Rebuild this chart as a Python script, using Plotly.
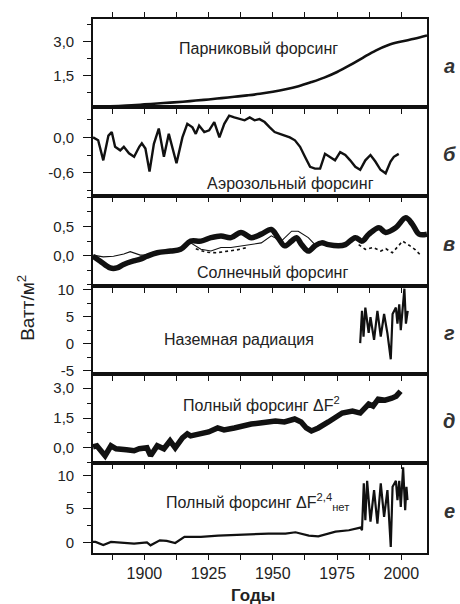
import numpy as np
import plotly.graph_objects as go
from plotly.subplots import make_subplots

# ---------------- data ----------------
ghg_years = [1880, 1885, 1890, 1895, 1900, 1905, 1910, 1915, 1920, 1925, 1930, 1935, 1940,
             1945, 1950, 1955, 1960, 1965, 1970, 1975, 1980, 1985, 1990, 1995, 2000, 2005, 2010]
ghg_vals = [0.10, 0.12, 0.14, 0.17, 0.21, 0.25, 0.29, 0.33, 0.38, 0.43, 0.49, 0.55, 0.61,
            0.68, 0.77, 0.88, 1.02, 1.20, 1.40, 1.65, 1.95, 2.28, 2.60, 2.85, 3.00, 3.12, 3.27]

aer_years = [1880, 1882, 1884, 1886, 1887.3, 1888.6, 1890.6, 1892, 1894, 1896, 1898, 1899,
             1900.4, 1902, 1903.7, 1905.6, 1907.6, 1909.5, 1912.5, 1914.8, 1916.7, 1918.7,
             1920, 1921.3, 1923.3, 1925.2, 1927.2, 1929.2, 1931.1, 1933, 1935, 1937, 1939,
             1941, 1942.9, 1944.8, 1946.8, 1948.8, 1950.7, 1952.7, 1954.6, 1956.6, 1958.6,
             1960.6, 1962.5, 1964.5, 1966.4, 1968.4, 1970.3, 1972.3, 1974.2, 1976.2, 1978.2,
             1980.1, 1982.1, 1984, 1986, 1988, 1989.9, 1991.9, 1993.9, 1995.8, 1997.1, 1999]
aer_vals = [0.0, -0.05, -0.39, 0.03, 0.09, -0.16, -0.22, -0.16, -0.27, -0.33, -0.16, -0.10,
            -0.19, -0.58, -0.11, 0.15, -0.33, 0.06, -0.44, 0.0, 0.23, 0.17,
            0.06, 0.20, 0.09, 0.12, 0.26, 0.0, 0.23, 0.37, 0.34, 0.31, 0.29,
            0.34, 0.29, 0.31, 0.26, 0.17, 0.09, 0.06, 0.03, 0.0, -0.05,
            -0.16, -0.33, -0.50, -0.53, -0.53, -0.28, -0.33, -0.39, -0.25, -0.30,
            -0.39, -0.50, -0.55, -0.39, -0.30, -0.41, -0.55, -0.61, -0.41, -0.33, -0.28]

sol_years = [1880, 1882.7, 1886.7, 1889.3, 1891.9, 1895.8, 1898.4, 1901, 1905, 1910.2, 1914.1,
             1918, 1922, 1925.9, 1929.8, 1933.7, 1937.6, 1941.6, 1945.5, 1949.4, 1952, 1954.6,
             1957.3, 1959.2, 1961.2, 1963.8, 1966.4, 1969, 1971.6, 1975.6, 1978.2, 1982.1,
             1984.7, 1987.4, 1991.3, 1993.9, 1997.8, 2001.7, 2004.3, 2006.9, 2010]
sol_vals = [-0.01, -0.09, -0.21, -0.21, -0.15, -0.09, -0.06, -0.01, 0.05, 0.08, 0.11,
            0.25, 0.25, 0.31, 0.34, 0.31, 0.40, 0.31, 0.37, 0.45, 0.31, 0.17,
            0.25, 0.31, 0.19, 0.08, 0.17, 0.22, 0.19, 0.17, 0.19, 0.31,
            0.25, 0.37, 0.48, 0.40, 0.48, 0.65, 0.54, 0.37, 0.37]

sol2_years = [1880, 1884, 1888, 1892, 1894.5, 1898.4, 1901, 1905, 1910, 1914, 1918, 1922,
              1925.9, 1929.8, 1933.7, 1937.6, 1941.6, 1945.5, 1949.4, 1953.3, 1957.3, 1959.9,
              1963.8, 1966.4, 1970]
sol2_vals = [0.01, -0.02, -0.01, 0.03, 0.07, 0.01, 0.01, 0.05, 0.08, 0.11, 0.22, 0.11,
             0.08, 0.14, 0.14, 0.17, 0.19, 0.22, 0.34, 0.25, 0.42, 0.42,
             0.31, 0.19, 0.20]

# dotted series: two separate stretches (None marks the gap in the record)
sol3_years = [1920, 1924, 1928, 1932, 1936, 1940, None, 1983.4, 1986,
              1989, 1992, 1994, 1996.5, 1998.5, 2000.5, 2003, 2005.5, 2007.9]
sol3_vals = [0.12, 0.06, 0.05, 0.07, 0.10, 0.14, None, 0.19, 0.11,
             0.14, 0.08, 0.12, 0.05, 0.15, 0.25, 0.18, 0.10, -0.01]

gr_years = [1984, 1984.7, 1985.3, 1986, 1987.3, 1988, 1989.4, 1990.7, 1992, 1993.3, 1994.6,
            1995.9, 1996.6, 1997.9, 1998.5, 1999.2, 1999.8, 2000.5, 2001.2, 2001.8, 2002.5]
gr_vals = [0.1, 6.1, 1.3, 6.7, 2.0, 4.9, 0.7, 6.1, 1.3, 5.5, 1.9,
           -2.9, 5.5, 6.7, 3.7, 7.3, 2.5, 6.1, 10.2, 3.7, 6.1]

tot_years = [1880, 1881.5, 1884.7, 1887, 1889, 1891, 1893, 1896, 1898, 1901, 1902.4, 1905,
             1907.6, 1910, 1912, 1914.8, 1916.7, 1918, 1920, 1922, 1925, 1928.5, 1931, 1935,
             1938, 1941.6, 1945, 1948, 1951, 1954.5, 1958.5, 1961, 1963, 1965, 1967.7, 1971.6,
             1974, 1977, 1981, 1984, 1987.3, 1989, 1991, 1993.7, 1996.3, 1998, 1999.7]
tot_vals = [0.05, 0.10, -0.40, 0.10, -0.05, -0.05, -0.10, -0.15, -0.05, 0.0, -0.40, 0.10,
            -0.05, 0.35, 0.0, 0.50, 0.70, 0.60, 0.65, 0.75, 0.80, 1.00, 0.90, 1.00,
            1.10, 1.20, 1.25, 1.30, 1.35, 1.30, 1.45, 1.30, 1.00, 0.85, 1.00, 1.30,
            1.50, 1.75, 1.85, 1.75, 2.20, 2.10, 2.45, 2.40, 2.50, 2.60, 2.85]

net_years = [1880, 1881, 1884, 1887, 1896, 1901, 1902.4, 1906, 1908.7, 1912, 1915.6, 1922,
             1928.7, 1935.2, 1941.7, 1948.3, 1954.9, 1958.8, 1964, 1967.7, 1974.4, 1979.6,
             1984.1, 1984.7, 1985.4, 1986, 1986.7, 1988, 1989.4, 1990.7, 1992, 1993.3, 1994.6,
             1995.9, 1996.6, 1997.9, 1998.5, 1999.2, 1999.8, 2000.7, 2001.5, 2002, 2002.4]
net_vals = [0.05, 0.05, -0.40, 0.05, -0.20, 0.0, -0.45, 0.30, 0.20, -0.10, 0.80, 0.80,
            1.00, 1.10, 1.30, 1.30, 1.30, 1.50, 1.00, 0.90, 1.60, 1.80,
            2.20, 1.80, 8.80, 3.30, 9.20, 3.10, 7.80, 2.80, 8.80, 3.80, 7.80,
            -0.70, 8.30, 9.20, 6.30, 9.20, 5.30, 11.20, 4.80, 8.30, 6.30]

x_tickvals = [1900, 1925, 1950, 1975, 2000]
x_ticktext = ["1900", "1925", "1950", "1975", "2000"]

panel_labels = ["а", "б", "в", "г", "д", "е"]
panel_titles = ["Парниковый форсинг", "Аэрозольный форсинг", "Солнечный форсинг",
                "Наземная радиация", "Полный форсинг ΔF<sup>2</sup>",
                "Полный форсинг ΔF<sup>2,4</sup><sub>нет</sub>"]

y_ticks = [
    ([1.5, 3.0], ["1,5", "3,0"]),
    ([-0.6, 0.0], ["-0,6", "0,0"]),
    ([0.0, 0.5], ["0,0", "0,5"]),
    ([-5, 0, 5, 10], ["-5", "0", "5", "10"]),
    ([0.0, 1.5, 3.0], ["0,0", "1,5", "3,0"]),
    ([0, 5, 10], ["0", "5", "10"]),
]

# ---------------- figure ----------------
FONT = "Liberation Sans, Arial, sans-serif"
row_h = [89, 89, 91, 89, 89, 91]
fig = make_subplots(rows=6, cols=1, shared_xaxes=True, vertical_spacing=0,
                    row_heights=row_h)

blk = "#111111"
fig.add_trace(go.Scatter(x=ghg_years, y=ghg_vals, mode="lines", line=dict(color=blk, width=2.6),
                         line_shape="spline"), row=1, col=1)
fig.add_trace(go.Scatter(x=aer_years, y=aer_vals, mode="lines", line=dict(color=blk, width=2.4)),
              row=2, col=1)
fig.add_trace(go.Scatter(x=sol3_years, y=sol3_vals, mode="lines", connectgaps=False,
                         line=dict(color=blk, width=1.6, dash="dot")), row=3, col=1)
fig.add_trace(go.Scatter(x=sol2_years, y=sol2_vals, mode="lines",
                         line=dict(color=blk, width=1.1)), row=3, col=1)
fig.add_trace(go.Scatter(x=sol_years, y=sol_vals, mode="lines",
                         line=dict(color=blk, width=5.5), line_shape="spline"), row=3, col=1)
fig.add_trace(go.Scatter(x=gr_years, y=gr_vals, mode="lines", line=dict(color=blk, width=2.2)),
              row=4, col=1)
fig.add_trace(go.Scatter(x=tot_years, y=tot_vals, mode="lines",
                         line=dict(color=blk, width=5.5)), row=5, col=1)
fig.add_trace(go.Scatter(x=net_years, y=net_vals, mode="lines", line=dict(color=blk, width=2.2)),
              row=6, col=1)

y_ranges = [[0.08, 4.0], [-0.99, 0.51], [-0.52, 1.03], [-5.7, 10.7], [-0.75, 3.7], [-1.6, 11.9]]
y_minor = [0.75, 0.3, 0.25, 2.5, 0.75, 2.5]

for i in range(6):
    r = i + 1
    fig.update_xaxes(range=[1880, 2010], showline=True, linecolor=blk, linewidth=1.6,
                     mirror="ticks" if i == 0 else True,
                     ticks="outside", ticklen=5, tickwidth=1.4, tickcolor=blk,
                     tickmode="array", tickvals=x_tickvals, ticktext=x_ticktext,
                     minor=dict(tickmode="linear", tick0=1887.5, dtick=25, ticks="outside",
                                ticklen=5, tickwidth=1.4, tickcolor=blk),
                     showgrid=False, zeroline=False,
                     showticklabels=(i == 5),
                     tickfont=dict(family=FONT, size=16, color="#222"),
                     row=r, col=1)
    tv, tt = y_ticks[i]
    lo, hi = y_ranges[i]
    step = y_minor[i]
    mv = [v for v in np.arange(np.ceil(lo / step) * step, hi, step)]
    fig.update_yaxes(range=y_ranges[i], showline=True, linecolor=blk, linewidth=1.6, mirror=True,
                     ticks="outside", ticklen=8, tickwidth=1.4, tickcolor=blk,
                     ticklabelstandoff=6,
                     tickmode="array", tickvals=tv, ticktext=tt,
                     minor=dict(tickmode="array", tickvals=mv, ticks="outside", ticklen=4,
                                tickwidth=1.2, tickcolor=blk),
                     showgrid=False, zeroline=False,
                     tickfont=dict(family=FONT, size=15, color="#222"),
                     row=r, col=1)

# panel boundaries in pixels -> paper coords
H, T, B = 604, 15, 51
ph = H - T - B
bounds = [15]
for h in row_h:
    bounds.append(bounds[-1] + h)


def py(ypix):
    return (H - B - ypix) / ph


L, R = 93, 33
pw = 460 - L - R


def px(xpix):
    return (xpix - L) / pw


title_pos = [(258, 45), (290, 181), (272, 270), (239, 338), (261, 403), (257, 502)]
anns = []
for i in range(6):
    xp, yp = title_pos[i]
    anns.append(dict(x=px(xp), y=py(yp), xref="paper", yref="paper", text=panel_titles[i],
                     showarrow=False, xanchor="center", yanchor="middle",
                     font=dict(family=FONT, size=16, color="#222")))
    cy = (bounds[i] + bounds[i + 1]) / 2 + 3
    anns.append(dict(x=px(449), y=py(cy), xref="paper", yref="paper",
                     text="<i><b>" + panel_labels[i] + "</b></i>", showarrow=False,
                     xanchor="center", yanchor="middle",
                     font=dict(family=FONT, size=20, color="#333")))

anns.append(dict(x=px(26), y=py(306), xref="paper", yref="paper", text="Ватт/м<sup>2</sup>",
                 textangle=-90, showarrow=False, xanchor="center", yanchor="middle",
                 font=dict(family=FONT, size=19, color="#222")))
anns.append(dict(x=px(253), y=py(596), xref="paper", yref="paper", text="<b>Годы</b>",
                 showarrow=False, xanchor="center", yanchor="middle",
                 font=dict(family=FONT, size=17, color="#222")))

fig.update_layout(width=460, height=604, margin=dict(l=L, r=R, t=T, b=B),
                  paper_bgcolor="white", plot_bgcolor="rgba(0,0,0,0)",
                  showlegend=False, annotations=anns,
                  font=dict(family=FONT, color="#222"))

fig.write_html("out.html")
